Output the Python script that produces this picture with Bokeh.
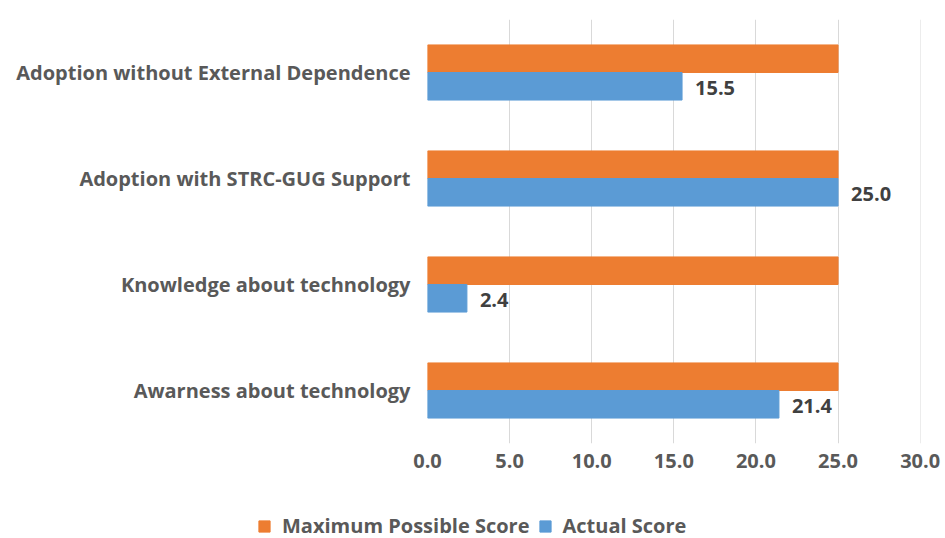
from bokeh.plotting import figure
from bokeh.models import FactorRange, Range1d, FixedTicker, NumeralTickFormatter, ColumnDataSource, Legend, LegendItem
from bokeh.transform import dodge
from bokeh.core.properties import value
from bokeh.embed import file_html
from bokeh.resources import INLINE

categories = ["Adoption without External Dependence", "Adoption with STRC-GUG Support",
              "Knowledge about technology", "Awarness about technology"]
max_score = [25.0, 25.0, 25.0, 25.0]
actual_score = [15.5, 25.0, 2.4, 21.4]
x_ticks = [0, 5, 10, 15, 20, 25, 30]
series_names = ["Maximum Possible Score", "Actual Score"]
series_colors = ["#ED7D31", "#5B9BD5"]

FONT = "Open Sans"
GRAY = "#595959"

src = ColumnDataSource(dict(cat=categories, mx=max_score, act=actual_score,
                            lbl=["%.1f" % v for v in actual_score]))

p = figure(width=945, height=500, output_backend="svg", toolbar_location=None,
           y_range=FactorRange(factors=categories[::-1]), x_range=Range1d(0, 30.02),
           min_border_left=427, min_border_right=25, min_border_top=19, min_border_bottom=57)
p.outline_line_color = None
p.background_fill_color = "white"

r1 = p.hbar(y=dodge("cat", 0.13, range=p.y_range), right="mx", left=0, height=0.26,
            color=series_colors[0], source=src)
r2 = p.hbar(y=dodge("cat", -0.13, range=p.y_range), right="act", left=0, height=0.26,
            color=series_colors[1], source=src)
p.text(x="act", y=dodge("cat", -0.13, range=p.y_range), text="lbl", source=src,
       x_offset=13, y_offset=2, text_baseline="middle", text_align="left",
       text_font=value(FONT), text_font_style="bold", text_font_size="20px", text_color="#404040")

p.ygrid.visible = False
p.xgrid.grid_line_color = "#d9d9d9"
p.xgrid.grid_line_width = 1

p.xaxis.ticker = FixedTicker(ticks=x_ticks)
p.xaxis.formatter = NumeralTickFormatter(format="0.0")
p.xaxis.axis_line_color = None
p.xaxis.major_tick_line_color = None
p.xaxis.minor_tick_line_color = None
p.xaxis.major_tick_out = 0
p.xaxis.major_label_text_font = FONT
p.xaxis.major_label_text_font_style = "bold"
p.xaxis.major_label_text_font_size = "20px"
p.xaxis.major_label_text_color = GRAY
p.xaxis.major_label_standoff = 10

p.yaxis.axis_line_color = None
p.yaxis.major_tick_line_color = None
p.yaxis.minor_tick_line_color = None
p.yaxis.major_tick_out = 0
p.yaxis.major_label_text_font = FONT
p.yaxis.major_label_text_font_style = "bold"
p.yaxis.major_label_text_font_size = "20px"
p.yaxis.major_label_text_color = GRAY
p.yaxis.major_label_standoff = 17

# legend strip (separate root so it is not aligned to the main plot's borders)
p2 = figure(width=945, height=38, output_backend="svg", toolbar_location=None,
            x_range=Range1d(0, 1), y_range=Range1d(0, 1),
            min_border_left=0, min_border_right=0, min_border_top=0, min_border_bottom=0)
p2.axis.visible = False
p2.grid.visible = False
p2.outline_line_color = None
# legend-key renderers: one bar each, placed outside the strip's visible range
lr1 = p2.hbar(y=[-5], right=[1], left=0, height=0.5, color=series_colors[0])
lr2 = p2.hbar(y=[-5], right=[1], left=0, height=0.5, color=series_colors[1])
legend = Legend(items=[LegendItem(label=series_names[0], renderers=[lr1]),
                       LegendItem(label=series_names[1], renderers=[lr2])],
                orientation="horizontal", location=(257, -1),
                label_text_font=FONT, label_text_font_style="bold", label_text_font_size="20px",
                label_text_color=GRAY, glyph_width=14, glyph_height=14, spacing=8,
                label_standoff=11, label_height=20,
                border_line_color=None, background_fill_alpha=0, margin=0, padding=0)
p2.add_layout(legend, "center")

open("out.html", "w").write(file_html([p, p2], INLINE))
